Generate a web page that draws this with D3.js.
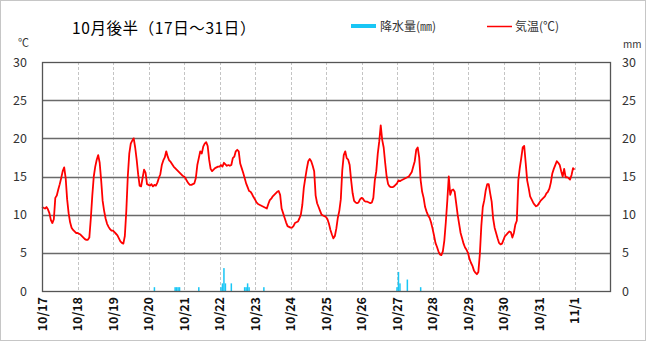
<!DOCTYPE html>
<html>
<head>
<meta charset="utf-8">
<script src="https://cdn.jsdelivr.net/npm/d3@7"></script>
<style>
  body { margin: 0; background: #fff; }
  svg { display: block; }
  text { font-family: "Noto Sans CJK JP", "Noto Sans", sans-serif; }
</style>
</head>
<body>
<svg id="chart" width="646" height="341"></svg>
<script>
// Day labels along the time axis (one per midnight)
const dayLabels = ["10/17","10/18","10/19","10/20","10/21","10/22","10/23","10/24",
                   "10/25","10/26","10/27","10/28","10/29","10/30","10/31","11/1"];
const yTicks = [0, 5, 10, 15, 20, 25, 30];

// Hourly air temperature (°C) from 10/17 00:00 to 11/1 00:00
const temperature = [
  11.0,10.9,10.8,11.0,10.7,10.2,9.3,8.9,9.4,12.2,12.5,13.3,14.0,14.8,15.7,16.2,14.8,12.0,10.2,9.0,8.3,8.0,7.8,7.6,
  7.6,7.5,7.4,7.2,7.0,6.8,6.7,6.7,7.0,9.5,12.5,15.0,16.3,17.2,17.8,16.8,14.5,11.8,10.5,9.5,8.8,8.4,8.1,7.9,
  7.9,7.7,7.5,7.3,6.9,6.5,6.3,6.2,7.2,10.5,15.0,18.0,19.3,19.7,20.0,18.8,17.2,15.3,13.8,13.7,14.8,15.9,15.5,14.0,
  13.9,13.8,14.0,13.7,13.9,13.8,14.2,14.8,15.3,16.5,17.1,17.5,18.3,17.6,17.1,16.9,16.6,16.3,16.1,15.9,15.7,15.5,15.3,15.1,
  15.0,14.8,14.4,14.1,13.9,13.9,14.0,14.1,14.8,16.5,17.4,18.3,18.0,18.9,19.3,19.5,19.0,17.2,16.0,15.7,15.9,16.1,16.2,16.3,
  16.3,16.5,16.3,16.8,16.6,16.4,16.5,16.4,16.5,17.4,17.6,18.3,18.5,18.3,16.7,16.1,15.5,14.8,14.1,13.6,13.1,13.0,12.7,12.3,
  12.0,11.6,11.4,11.3,11.2,11.1,11.0,10.9,10.8,11.4,11.9,12.1,12.4,12.6,12.8,13.0,13.1,12.6,10.8,10.2,9.6,9.0,8.5,8.4,
  8.3,8.3,8.5,8.9,9.0,9.1,9.5,10.0,11.3,13.5,14.8,16.0,17.0,17.3,17.0,16.4,15.7,12.5,11.5,11.0,10.5,10.0,9.9,9.8,
  9.7,9.4,8.8,8.0,7.4,6.9,7.2,8.2,9.6,10.5,12.0,15.8,17.8,18.3,17.4,17.2,16.5,14.5,12.8,11.8,11.6,11.5,11.6,12.0,
  12.2,12.1,11.8,11.7,11.7,11.6,11.5,11.6,12.2,14.5,15.7,18.0,19.6,21.7,19.8,18.8,16.8,15.0,14.0,13.7,13.6,13.6,13.7,13.9,
  14.1,14.5,14.4,14.5,14.6,14.7,14.8,14.9,15.0,15.3,15.6,16.3,17.0,18.5,18.8,17.5,14.5,13.0,12.2,11.0,10.4,9.9,9.6,9.0,
  8.2,7.3,6.3,5.8,5.2,4.8,4.7,5.2,6.6,9.0,11.8,15.0,12.6,13.2,13.3,13.0,11.5,10.0,8.8,7.6,6.9,6.2,5.7,5.4,
  5.0,4.2,3.7,3.3,2.7,2.4,2.2,2.5,4.8,8.5,11.0,11.9,13.2,14.0,14.0,12.8,11.7,9.5,8.3,7.6,6.9,6.3,6.1,6.2,
  6.7,7.2,7.4,7.6,7.8,7.7,7.0,7.6,8.7,9.2,14.5,16.1,17.4,18.8,19.0,16.8,14.5,13.5,12.4,12.0,11.6,11.3,11.1,11.2,
  11.5,11.8,12.0,12.2,12.4,12.8,13.0,13.4,14.2,15.4,16.0,16.5,17.0,16.8,16.5,15.7,15.0,16.0,14.9,14.9,14.8,14.6,15.2,16.1,15.9
];

// Hourly precipitation (mm): hour offset from 10/17 00:00 and amount
const rainHour = [76, 90, 91, 92, 93, 106, 121, 122, 123, 124, 128, 137, 138, 139, 140, 150, 240, 241, 242, 247, 256];
const rainMM   = [0.5, 0.5, 0.5, 0.5, 0.5, 0.5, 0.5, 1.0, 3.0, 1.0, 1.0, 0.5, 0.5, 1.0, 0.5, 0.5, 0.5, 2.5, 1.0, 1.5, 0.5];

const svg = d3.select("#chart");
const W = 646, H = 341;
const m = { left: 42, right: 610, top: 62, bottom: 291 };

const x = d3.scaleLinear().domain([0, 16 * 24]).range([m.left, m.right]);
const y = d3.scaleLinear().domain([0, 30]).range([m.bottom, m.top]);

// outer frame
svg.append("rect")
  .attr("x", 0.5).attr("y", 0.5).attr("width", W - 1).attr("height", H - 1)
  .attr("fill", "#fff").attr("stroke", "#8c8c8c").attr("stroke-dasharray", "1,1");

// vertical day grid
svg.append("g").selectAll("line")
  .data(d3.range(1, 16))
  .join("line")
  .attr("x1", d => Math.round(x(d * 24)) + 0.5).attr("x2", d => Math.round(x(d * 24)) + 0.5)
  .attr("y1", m.top).attr("y2", m.bottom)
  .attr("stroke", "#c4c4c4").attr("stroke-dasharray", "3,2");

// horizontal grid
svg.append("g").selectAll("line")
  .data(yTicks.filter(v => v > 0 && v < 30))
  .join("line")
  .attr("x1", m.left).attr("x2", m.right)
  .attr("y1", d => Math.round(y(d)) + 0.5).attr("y2", d => Math.round(y(d)) + 0.5)
  .attr("stroke", "#6a6a6a").attr("stroke-width", 1.4);

// precipitation bars
const rain = rainHour.map((h, i) => ({ h, v: rainMM[i] }));
svg.append("g").selectAll("rect")
  .data(rain)
  .join("rect")
  .attr("x", d => x(d.h) - 0.75)
  .attr("width", 1.5)
  .attr("y", d => y(d.v))
  .attr("height", d => y(0) - y(d.v))
  .attr("fill", "#19c6f5");

// temperature line
svg.append("path")
  .datum(temperature)
  .attr("fill", "none")
  .attr("stroke", "#ff0000")
  .attr("stroke-width", 1.8)
  .attr("stroke-linejoin", "round")
  .attr("d", d3.line().x((d, i) => x(i)).y(d => y(d)));

// plot frame
svg.append("rect")
  .attr("x", m.left + 0.5).attr("y", m.top + 0.5)
  .attr("width", m.right - m.left).attr("height", m.bottom - m.top)
  .attr("fill", "none").attr("stroke", "#555").attr("stroke-width", 1.3);

// left axis (°C)
const axL = svg.append("g").attr("transform", `translate(${m.left},0)`)
  .call(d3.axisLeft(y).tickValues(yTicks).tickSize(0).tickPadding(15).tickFormat(d3.format("d")));
// right axis (mm)
const axR = svg.append("g").attr("transform", `translate(${m.right},0)`)
  .call(d3.axisRight(y).tickValues(yTicks).tickSize(0).tickPadding(12).tickFormat(d3.format("d")));
[axL, axR].forEach(a => {
  a.select(".domain").remove();
  a.selectAll("text").attr("font-size", 12.5).attr("fill", "#333")
    .attr("font-family", "'Liberation Sans', Arial, sans-serif");
});

// bottom axis: rotated day labels
const axB = svg.append("g").attr("transform", `translate(0,${m.bottom})`)
  .call(d3.axisBottom(x).tickValues(d3.range(0, 16).map(d => d * 24))
    .tickSize(0).tickFormat((d, i) => dayLabels[i]));
axB.select(".domain").remove();
axB.selectAll("text")
  .attr("transform", "rotate(-90)")
  .attr("text-anchor", "end")
  .attr("x", -6).attr("y", 0).attr("dy", "0.35em")
  .attr("font-size", 12.5).attr("font-weight", "bold").attr("fill", "#111")
  .attr("font-family", "'Liberation Sans', Arial, sans-serif");

// unit labels
svg.append("text").attr("x", 18).attr("y", 47).attr("font-size", 11).attr("fill", "#333").text("℃");
svg.append("text").attr("x", 623).attr("y", 48).attr("font-size", 10).attr("fill", "#333").text("mm");

// title
svg.append("text").attr("x", 72).attr("y", 34).attr("font-size", 15.5).attr("fill", "#000")
  .attr("letter-spacing", 0.6)
  .text("10月後半（17日～31日）");

// legend
svg.append("rect").attr("x", 351).attr("y", 24).attr("width", 25).attr("height", 4).attr("fill", "#19c6f5");
svg.append("text").attr("x", 380).attr("y", 31).attr("font-size", 12).attr("fill", "#333").text("降水量(㎜)");
svg.append("line").attr("x1", 487).attr("x2", 512).attr("y1", 26.5).attr("y2", 26.5)
  .attr("stroke", "#ff0000").attr("stroke-width", 1.5);
svg.append("text").attr("x", 515).attr("y", 31).attr("font-size", 12).attr("fill", "#333").text("気温(℃)");
</script>
</body>
</html>
